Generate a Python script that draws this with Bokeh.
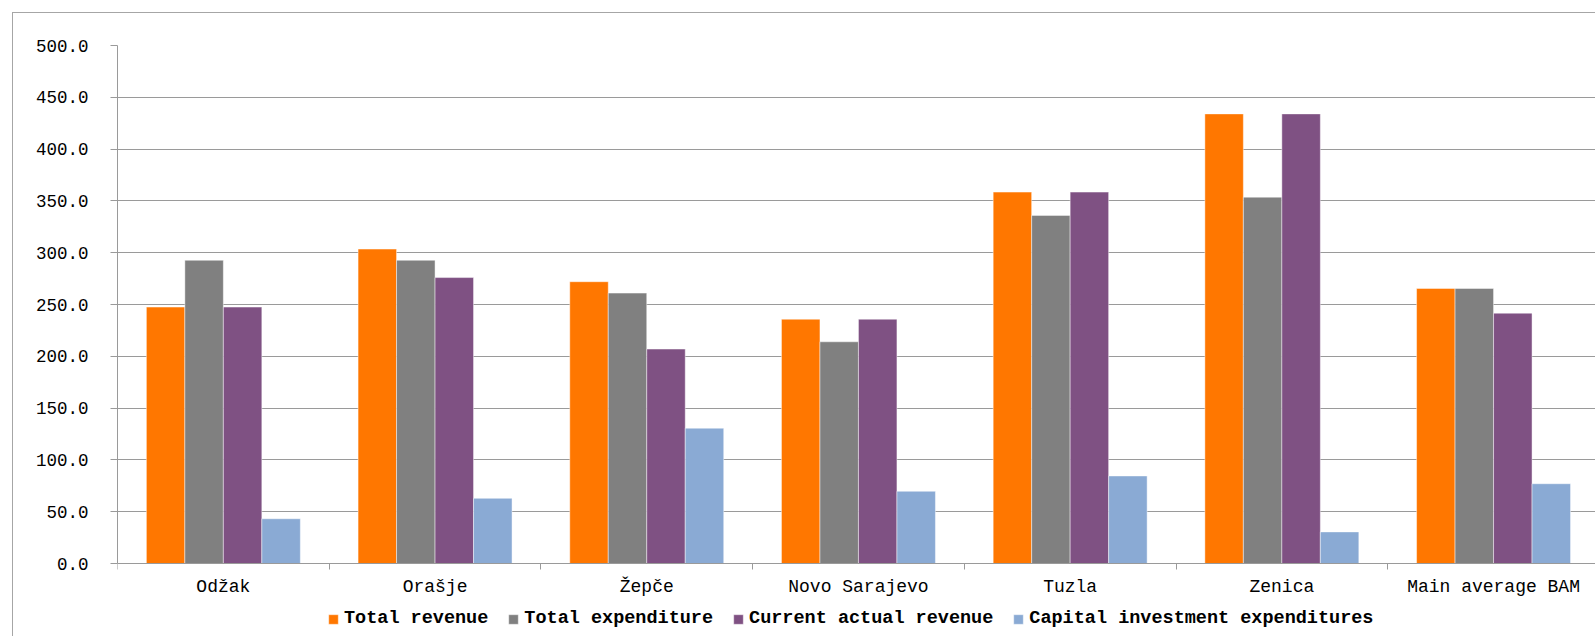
from bokeh.plotting import figure
from bokeh.models import (ColumnDataSource, Range1d, FixedTicker, Legend, LegendItem)
from bokeh.transform import dodge
from bokeh.embed import file_html
from bokeh.resources import INLINE

# ---------------- data ----------------
categories = ["Odžak", "Orašje", "Žepče", "Novo Sarajevo", "Tuzla", "Zenica", "Main average BAM"]
total_revenue = [247.5, 303.5, 272.0, 235.8, 358.5, 434.0, 265.5]
total_expenditure = [292.7, 292.7, 261.0, 214.0, 336.0, 353.6, 265.5]
current_actual_revenue = [247.5, 276.0, 207.0, 235.8, 358.5, 434.0, 241.6]
capital_investment = [43.2, 62.9, 130.6, 69.7, 84.5, 30.5, 77.0]
series_names = ["Total revenue", "Total expenditure", "Current actual revenue",
                "Capital investment expenditures"]
series_colors = ["#FF7700", "#808080", "#7F5183", "#8AAAD4"]
y_ticks = [0, 50, 100, 150, 200, 250, 300, 350, 400, 450, 500]
y_tick_labels = ["0.0", "50.0", "100.0", "150.0", "200.0", "250.0", "300.0",
                 "350.0", "400.0", "450.0", "500.0"]

# ---------------- layout constants ----------------
W, H = 1583, 624          # figure drawn from (13, 13) of the page
LEFT, TOP = 104, 32       # frame left at 117, top (500) at 45
CAT_PX = 211.7
frame_w = W - LEFT
x_end = frame_w / CAT_PX
frame_h = H - TOP
PX_PER_UNIT = 518 / 500   # 500 at y=45, 0 at y=563
y_start = 500 - frame_h / PX_PER_UNIT

src = ColumnDataSource(dict(
    xc=[i + 0.5 for i in range(len(categories))],
    s0=total_revenue, s1=total_expenditure, s2=current_actual_revenue, s3=capital_investment,
))

p = figure(width=W, height=H, output_backend="svg", toolbar_location=None,
           x_range=Range1d(0, x_end), y_range=Range1d(y_start, 500),
           min_border_left=LEFT, min_border_top=TOP, min_border_bottom=0,
           min_border_right=0)
p.styles = {"margin-left": "12px", "margin-top": "12px",
            "border-left": "1px solid #a6a6a6", "border-top": "1px solid #a6a6a6"}
p.outline_line_color = None
p.background_fill_color = "white"
p.border_fill_color = "white"

bw = 1 / 5.5
renderers = []
for j, key in enumerate(["s0", "s1", "s2", "s3"]):
    r = p.vbar(x=dodge("xc", (j - 1.5) / 5.5, range=p.x_range), top=key, width=bw,
               source=src, fill_color=series_colors[j], line_color="white",
               line_alpha=0.45, line_width=1)
    renderers.append(r)

# axes
FONT = "Liberation Mono"
xa = p.xaxis[0]
xa.fixed_location = 0
xa.ticker = FixedTicker(ticks=[i + 0.5 for i in range(len(categories))],
                        minor_ticks=list(range(len(categories) + 1)))
xa.major_label_overrides = {i + 0.5: c for i, c in enumerate(categories)}
xa.major_tick_out = 0
xa.major_tick_in = 0
xa.minor_tick_out = 6
xa.minor_tick_in = 0
xa.minor_tick_line_color = "#9a9a9a"
xa.axis_line_color = "#9a9a9a"
xa.major_label_text_font = FONT
xa.major_label_text_font_size = "18px"
xa.major_label_text_color = "#000000"
xa.major_label_standoff = 7

ya = p.yaxis[0]
ya.bounds = (0, 500)
ya.ticker = FixedTicker(ticks=y_ticks, minor_ticks=[])
ya.major_label_overrides = {t: l for t, l in zip(y_ticks, y_tick_labels)}
ya.major_tick_out = 7
ya.major_tick_in = 0
ya.minor_tick_out = 0
ya.minor_tick_in = 0
ya.major_tick_line_color = "#9a9a9a"
ya.axis_line_color = "#9a9a9a"
ya.major_label_text_font = FONT
ya.major_label_text_font_size = "17.5px"
ya.major_label_text_color = "#000000"
ya.major_label_standoff = 22

p.xgrid.grid_line_color = None
p.ygrid.ticker = FixedTicker(ticks=y_ticks)
p.ygrid.grid_line_color = "#9a9a9a"
p.ygrid.grid_line_width = 1

legend = Legend(items=[LegendItem(label=n, renderers=[r]) for n, r in zip(series_names, renderers)],
                orientation="horizontal", location=(210, 8))
legend.label_text_font = FONT
legend.label_text_font_style = "bold"
legend.label_text_font_size = "18.5px"
legend.label_text_color = "#000000"
legend.glyph_width = 12
legend.glyph_height = 12
legend.label_standoff = 5
legend.spacing = 19
legend.padding = 0
legend.margin = 0
legend.border_line_color = None
legend.background_fill_alpha = 0
p.add_layout(legend, "center")

open("out.html", "w").write(file_html(p, INLINE))
